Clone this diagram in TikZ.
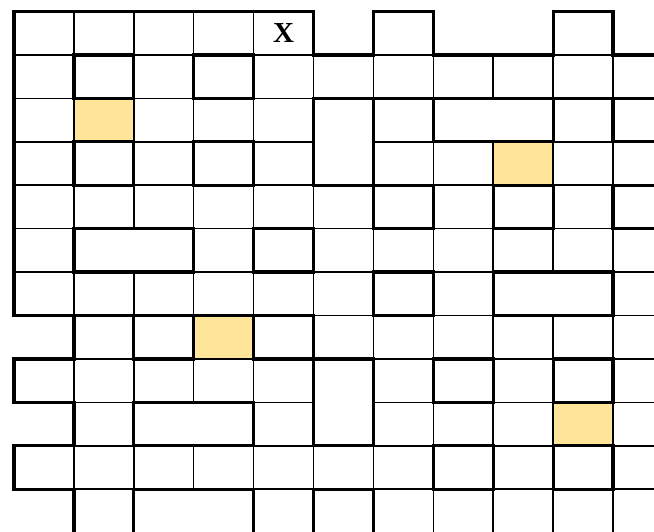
\documentclass[tikz,border=0pt]{standalone}
\usepackage{fontspec}
\setmainfont{Liberation Serif}
\definecolor{hl}{RGB}{255,229,153}
\tikzset{
  thinln/.style={line width=1.5pt},
  thickln/.style={line width=3.2pt,line cap=rect}
}
\begin{document}
\begin{tikzpicture}[x=1pt,y=1pt]
\useasboundingbox (0,0) rectangle (654,-531);
\clip (0,0) rectangle (654,-531);
\begin{scope}[shift={(14,-11.5)},x=59.9pt,y=-43.43pt]
% highlighted cells (col/row)
\foreach \c/\r in {1/2,8/3,3/7,9/9}
  \fill[hl] (\c,\r) rectangle (\c+1,\r+1);
% thin horizontal edges: row line / columns
\foreach \r/\cols in {1/{0,2,4,6,9},2/{0,2,4},3/{0,2,4,6,9},4/{0,2,4,7,9},5/{0,3,5,7,9},6/{0,3,5,7,10},7/{5,7,10},8/{1,3,6,8,10},9/{1,4,6,8,10},10/{1,4,6,8,10},11/{1,4,6,8,10}}
  \foreach \c in \cols \draw[thinln] (\c,\r) -- (\c+1,\r);
% thin vertical edges: row / column lines
\foreach \r/\cols in {0/{1,2,3,4},1/{5,6,7,8,9,10},2/{1,2,3,4},3/{7,8,9,10},4/{1,2,3,4,5},5/{6,7,8,9,10},6/{1,2,3,4,5},7/{6,7,8,9,10},8/{1,2,3,4},9/{7,8,9,10},10/{1,2,3,4,5,6},11/{7,8,9,10}}
  \foreach \c in \cols \draw[thinln] (\c,\r) -- (\c,\r+1);
% thick horizontal edges
\foreach \r/\cols in {0/{0,1,2,3,4,6,9},1/{1,3,5,7,8,10},2/{1,3,5,6,7,8,9,10},3/{1,3,7,8,10},4/{1,3,5,6,8,10},5/{1,2,4,6,8,10},6/{1,2,4,6,8,9},7/{0,1,2,3,4,6,8,9},8/{0,2,4,5,7,9},9/{0,2,3,7,9},10/{0,2,3,5,7,9},11/{0,2,3,5,7,9}}
  \foreach \c in \cols \draw[thickln] (\c,\r) -- (\c+1,\r);
% thick vertical edges
\foreach \r/\cols in {0/{0,5,6,7,9,10},1/{0,1,2,3,4},2/{0,5,6,7,9,10},3/{0,1,2,3,4,5,6},4/{0,6,7,8,9,10},5/{0,1,3,4,5},6/{0,6,7,8,10},7/{1,2,3,4,5},8/{0,5,6,7,8,9,10},9/{1,2,4,5,6},10/{0,7,8,9,10},11/{1,2,4,5,6}}
  \foreach \c in \cols \draw[thickln] (\c,\r) -- (\c,\r+1);
\node (x) at (4.5,0.5) {\fontsize{29}{29}\selectfont\bfseries X};
\end{scope}
\end{tikzpicture}
\end{document}
